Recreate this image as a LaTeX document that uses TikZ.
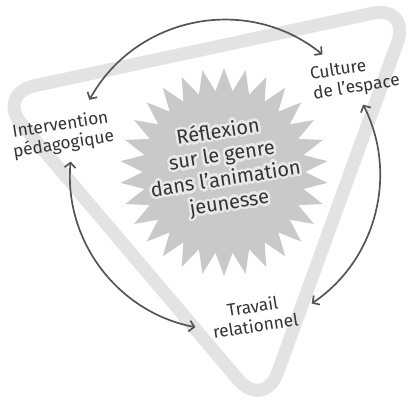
\documentclass[tikz,border=0pt]{standalone}
\usepackage{fontspec}
\setmainfont{Fira Sans}
\usepackage{contour}
\contourlength{2.4pt}
\contournumber{32}
\usetikzlibrary{shapes.geometric,arrows.meta}
\definecolor{bandc}{HTML}{E3E3E3}
\definecolor{starc}{HTML}{C9C9C9}
\definecolor{ink}{HTML}{333333}
\definecolor{arrowc}{HTML}{555555}
\definecolor{glowc}{HTML}{E9E9E9}
\begin{document}
\begin{tikzpicture}[x=1pt,y=1pt,
  tag/.style={text=ink, font=\fontsize{17.3}{19.5}\selectfont, rotate=9, inner sep=2pt},
  arr/.style={draw=arrowc, line width=1.7pt, {Straight Barb[length=5pt,width=11pt]}-{Straight Barb[length=5pt,width=11pt]}},
]
\useasboundingbox (0,0) rectangle (408,-408);
\draw[bandc, line width=13pt, rounded corners=40pt, line join=round] (-4,-94) -- (411,-5) -- (264,-410) -- cycle;
\node[star, star points=30, star point ratio=1.28, minimum size=208pt, fill=starc, inner sep=0pt] (burst) at (224,-172) {};
\node[text=ink, rotate=9, align=center, font=\fontsize{20}{24}\selectfont] (core) at (224,-169)
  {\contour{glowc}{Réflexion}\\\contour{glowc}{sur le genre}\\\contour{glowc}{dans l’animation}\\\contour{glowc}{jeunesse}};
\node[tag, align=center] (intv) at (62,-135) {Intervention\\pédagogique};
\node[tag, align=left] (cult) at (355,-78) {Culture\\de l’espace};
\node[tag, align=center] (trav) at (254,-316) {Travail\\relationnel};
\draw[arr] ([shift={(27.4,35.1)}]intv.center) to[out=61,in=141,looseness=1.04] ([shift={(-32.5,23.5)}]cult.center);
\draw[arr] ([shift={(8.1,-26.6)}]cult.center) to[out=-63,in=34,looseness=0.97] ([shift={(57.7,12.5)}]trav.center);
\draw[arr] ([shift={(-58.6,-11.2)}]trav.center) to[out=169,in=265,looseness=0.98] ([shift={(8.6,-26.5)}]intv.center);
\end{tikzpicture}
\end{document}
